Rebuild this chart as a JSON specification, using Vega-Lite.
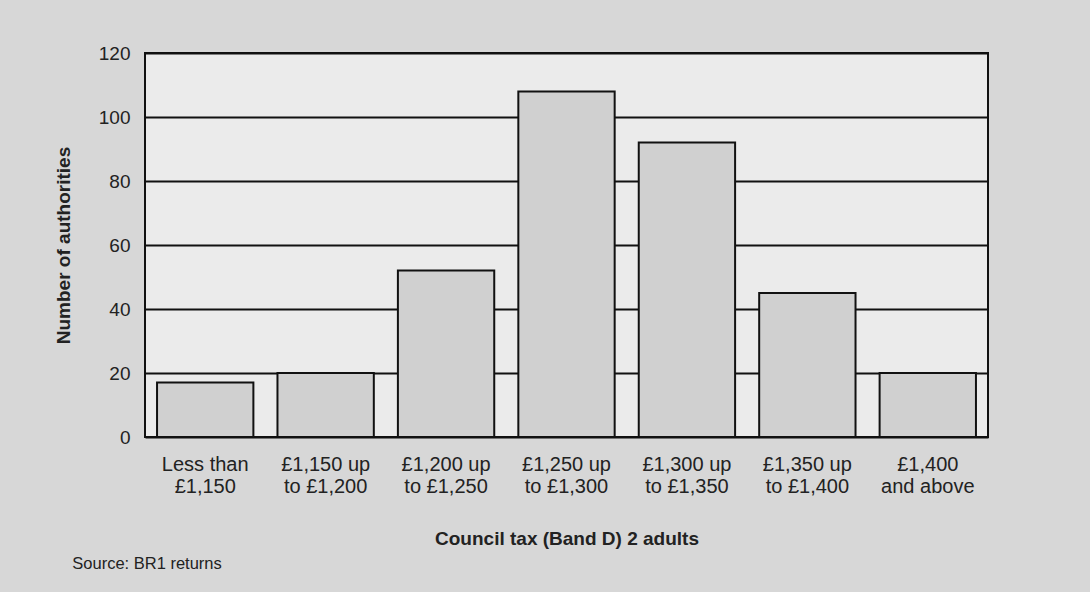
{
  "$schema": "https://vega.github.io/schema/vega-lite/v6.json",
  "autosize": {"type": "none"},
  "width": 843,
  "height": 384,
  "padding": {"left": 145, "top": 53, "right": 102, "bottom": 155},
  "background": "#d7d7d7",
  "data": {
    "values": [
      {"band": "Less than\n£1,150", "authorities": 17},
      {"band": "£1,150 up\nto £1,200", "authorities": 20},
      {"band": "£1,200 up\nto £1,250", "authorities": 52},
      {"band": "£1,250 up\nto £1,300", "authorities": 108},
      {"band": "£1,300 up\nto £1,350", "authorities": 92},
      {"band": "£1,350 up\nto £1,400", "authorities": 45},
      {"band": "£1,400\nand above", "authorities": 20}
    ]
  },
  "title": {
    "text": "Source: BR1 returns",
    "orient": "bottom",
    "anchor": "start",
    "dx": 18,
    "offset": 8,
    "font": "Liberation Sans",
    "fontSize": 16.5,
    "fontWeight": "normal",
    "color": "#222"
  },
  "mark": {"type": "bar", "fill": "#d0d0d0", "stroke": "#111", "strokeWidth": 2},
  "encoding": {
    "x": {
      "field": "band",
      "type": "nominal",
      "sort": null,
      "scale": {"paddingInner": 0.2, "paddingOuter": 0.1},
      "axis": {
        "title": "Council tax (Band D) 2 adults",
        "labelAngle": 0,
        "labelExpr": "split(datum.value, '\\n')",
        "labelLineHeight": 22,
        "labelPadding": 17,
        "labelFontSize": 20,
        "labelFont": "Liberation Sans",
        "labelColor": "#222",
        "ticks": false,
        "domain": false,
        "titleFont": "Liberation Sans",
        "titleFontSize": 19,
        "titleFontWeight": "bold",
        "titleColor": "#222",
        "titlePadding": 33
      }
    },
    "y": {
      "field": "authorities",
      "type": "quantitative",
      "scale": {"domain": [0, 120]},
      "axis": {
        "title": "Number of authorities",
        "values": [0, 20, 40, 60, 80, 100, 120],
        "grid": true,
        "gridColor": "#111",
        "gridWidth": 2,
        "gridOpacity": 1,
        "ticks": false,
        "domain": false,
        "labelPadding": 15,
        "labelFontSize": 19,
        "labelFont": "Liberation Sans",
        "labelColor": "#222",
        "titleFont": "Liberation Sans",
        "titleFontSize": 19,
        "titleFontWeight": "bold",
        "titleColor": "#222",
        "titlePadding": 25
      }
    }
  },
  "config": {
    "view": {"fill": "#ebebeb", "stroke": "#111", "strokeWidth": 2}
  }
}
